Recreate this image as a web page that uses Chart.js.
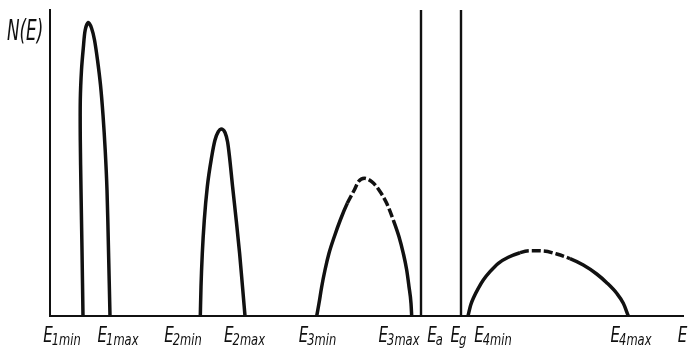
<!DOCTYPE html>
<html>
<head>
<meta charset="utf-8">
<script src="https://cdn.jsdelivr.net/npm/chart.js@4/dist/chart.umd.min.js"></script>
<style>
  html, body { margin: 0; padding: 0; background: #fff; }
  #wrap { width: 688px; height: 348px; }
</style>
</head>
<body>
<div id="wrap"><canvas id="dos" width="688" height="348"></canvas></div>
<script>
// Density of states N(E) for four allowed bands, energy in arbitrary units
const band1E = [33, 32, 31, 30.3, 30.3, 31.5, 33.3, 35.2, 38.3, 41.5, 44.5, 47.5, 50.5, 53, 55.2, 57, 58.5, 60];
const band1N = [0, 66, 126, 176, 216, 246, 268, 286, 293.5, 288, 276, 256, 231, 201, 166, 126, 66, 0];

const band2E = [150.3, 151, 152.3, 154.3, 157.3, 161.7, 165, 168.3, 171, 175, 177.6, 179.5, 182.6, 186.2, 189.6, 192.5, 195];
const band2N = [0, 29.3, 62.7, 96, 129.3, 159.3, 176, 184.3, 187, 183.5, 174, 159.3, 129.3, 96, 62.7, 29.3, 0];

const band3E = [266.7, 269, 271.7, 275, 279, 284.3, 290.3, 297.3, 304.3, 308.5, 314.3, 321.7, 329, 336.7, 343.3, 349, 353.3, 356.7, 359, 361, 361.7];
const band3N = [0, 12.7, 29.3, 46, 62.7, 79.3, 96, 112.7, 126, 134.5, 137.7, 134.3, 126, 112.7, 96, 79.3, 62.7, 46, 29.3, 12.7, 0];

const band4E = [418, 420.7, 424, 428.3, 433.3, 440, 448.3, 458.3, 470, 480, 493.3, 506.7, 520, 533.3, 546.7, 556.7, 566.7, 573.3, 578.3];
const band4N = [0, 11, 19.3, 27.7, 36, 44.3, 52.7, 58.7, 63.3, 65.3, 65, 62, 57.3, 51, 42, 33.3, 22.7, 12.7, 0];

// Sharp levels drawn as vertical lines
const levelE = [371, 411];
const levelTop = 306;

// Axis ranges
const eMax = 633;
const nMax = 306;

// Energy labels along the axis: main letter + subscript
const tickE = [12.5, 68.5, 133.5, 195, 268, 349.5, 385.5, 409, 443.5, 581.5, 632.5];
const tickMain = ['E', 'E', 'E', 'E', 'E', 'E', 'E', 'E', 'E', 'E', 'E'];
const tickSub = ['1min', '1max', '2min', '2max', '3min', '3max', 'a', 'g', '4min', '4max', ''];

const ink = '#111';

function toPoints(xs, ys) {
  return xs.map((x, i) => ({ x: x, y: ys[i] }));
}

// broken stroke over the upper part of a hump, between energies lo and hi
function dashBetween(lo, hi) {
  return {
    borderDash: (c) => (c.p0.parsed.x >= lo && c.p1.parsed.x <= hi) ? [9, 3] : undefined
  };
}

function curve(xs, ys, mode, segment) {
  const ds = {
    data: toPoints(xs, ys),
    showLine: true,
    borderColor: ink,
    borderWidth: 3.5,
    pointRadius: 0,
    fill: false
  };
  if (mode === 'monotone') {
    ds.cubicInterpolationMode = 'monotone';
  } else {
    ds.tension = 0.3;
  }
  if (segment) ds.segment = segment;
  return ds;
}

function level(e) {
  return {
    data: [{ x: e, y: 0 }, { x: e, y: levelTop }],
    showLine: true,
    borderColor: ink,
    borderWidth: 2.4,
    pointRadius: 0,
    tension: 0,
    fill: false
  };
}

function drawText(ctx, text, x, y, size, sx, sy) {
  ctx.save();
  ctx.translate(x, y);
  ctx.scale(sx, sy || 1);
  ctx.font = 'oblique ' + size + 'px "DejaVu Sans"';
  ctx.fillText(text, 0, 0);
  ctx.restore();
}

function textWidth(ctx, text, size, sx) {
  ctx.save();
  ctx.font = 'oblique ' + size + 'px "DejaVu Sans"';
  const w = ctx.measureText(text).width * sx;
  ctx.restore();
  return w;
}

const labelPlugin = {
  id: 'energyLabels',
  afterDraw(chart) {
    const ctx = chart.ctx;
    const xs = chart.scales.x;
    ctx.save();
    ctx.fillStyle = ink;
    ctx.textBaseline = 'alphabetic';
    ctx.textAlign = 'left';
    const mainSize = 21, subSize = 16, sx = 0.72;
    const baseY = 342;
    tickE.forEach((e, i) => {
      const cx = xs.getPixelForValue(e);
      const wm = textWidth(ctx, tickMain[i], mainSize, sx);
      const ws = tickSub[i] ? textWidth(ctx, tickSub[i], subSize, sx) : 0;
      const left = cx - (wm + ws) / 2;
      drawText(ctx, tickMain[i], left, baseY, mainSize, sx);
      if (tickSub[i]) drawText(ctx, tickSub[i], left + wm - 1, baseY + 3, subSize, sx);
    });
    // vertical axis title
    drawText(ctx, 'N(E)', 7, 40, 24, 0.7, 1.15);
    ctx.restore();
  }
};

new Chart(document.getElementById('dos'), {
  type: 'scatter',
  data: {
    datasets: [
      curve(band1E, band1N, 'tension'),
      curve(band2E, band2N, 'monotone'),
      curve(band3E, band3N, 'monotone', dashBetween(297, 343.3)),
      curve(band4E, band4N, 'monotone', dashBetween(465, 520)),
      level(levelE[0]),
      level(levelE[1])
    ]
  },
  options: {
    responsive: false,
    animation: false,
    layout: { padding: { left: 50, top: 10, right: 5, bottom: 32 } },
    plugins: { legend: { display: false }, tooltip: { enabled: false } },
    scales: {
      x: {
        type: 'linear', min: 0, max: eMax,
        grid: { display: false, drawTicks: false },
        ticks: { display: false },
        border: { display: true, color: ink, width: 2 }
      },
      y: {
        type: 'linear', min: 0, max: nMax,
        grid: { display: false, drawTicks: false },
        ticks: { display: false },
        border: { display: true, color: ink, width: 2 }
      }
    }
  },
  plugins: [labelPlugin]
});
</script>
</body>
</html>
